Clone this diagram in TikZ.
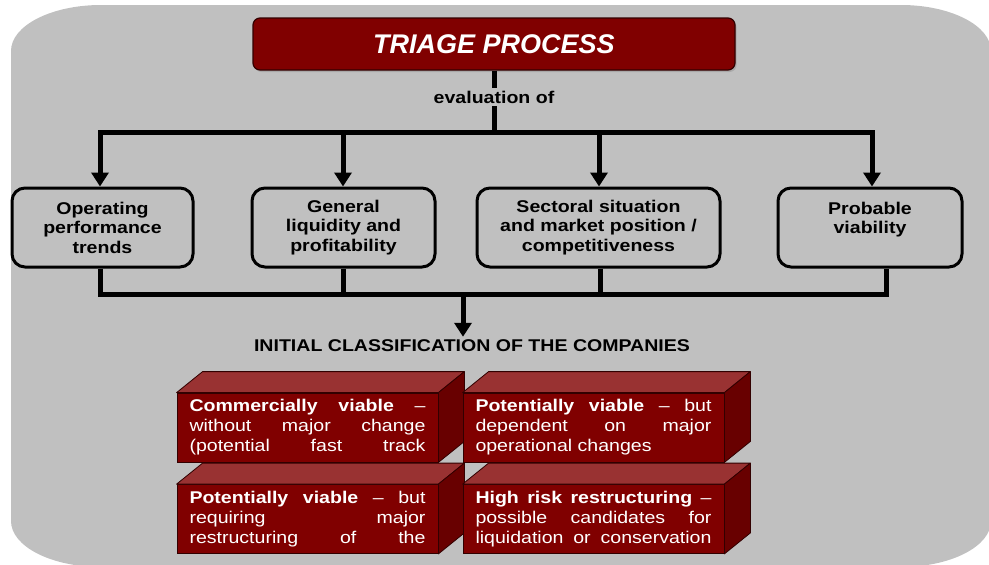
\documentclass[tikz,border=0pt]{standalone}
\usepackage{fontspec}
\setmainfont{Liberation Sans}[FakeStretch=1.15]
\newfontfamily\titlefont{Liberation Sans}
\usetikzlibrary{arrows.meta,shadows,calc}

\definecolor{bggray}{RGB}{192,192,192}
\definecolor{maroon}{RGB}{128,0,0}
\definecolor{maroontop}{RGB}{153,50,50}
\definecolor{maroonside}{RGB}{104,0,0}
\definecolor{maroonedge}{RGB}{50,0,0}

% one justified line of a classification slab
\newcommand\jl[1]{\hbox to 236pt{#1}}
% top and right faces of a slab whose front face is node #1
\newcommand\slabfaces[1]{%
  \filldraw[slabtop] (#1.north west) -- ++(26,-21) -- ($(#1.north east)+(26,-21)$) -- (#1.north east) -- cycle;
  \filldraw[slabside] (#1.north east) -- ++(26,-21) -- ($(#1.south east)+(26,-21)$) -- (#1.south east) -- cycle;}

\begin{document}
\begin{tikzpicture}[x=1pt,y=-1pt,
  conn/.style={line width=5pt},
  hconn/.style={line width=5pt,line cap=rect},
  arrowconn/.style={line width=5pt,-{Triangle[width=17pt,length=14pt]}},
  titlebox/.style={fill=maroon,draw=maroonedge,line width=1.2pt,rounded corners=7pt,
    minimum width=482pt,minimum height=52pt,text=white,
    drop shadow={opacity=0.35,shadow xshift=1.5pt,shadow yshift=-2pt},
    font=\titlefont\bfseries\itshape\fontsize{27}{30}\selectfont},
  topbox/.style={draw=black,line width=3pt,fill=bggray,rounded corners=13pt,
    minimum height=79pt,align=center,inner sep=0pt,
    font=\bfseries\fontsize{17}{19.5}\selectfont},
  label/.style={font=\bfseries\fontsize{17}{20}\selectfont,inner sep=3pt},
  front/.style={fill=maroon,draw=maroonedge,line width=0.8pt,minimum width=261pt,
    minimum height=69pt,inner sep=0pt,text=white,font=\fontsize{17}{20}\selectfont},
  slabtop/.style={fill=maroontop,draw=maroonedge,line width=0.8pt,line join=round},
  slabside/.style={fill=maroonside,draw=maroonedge,line width=0.8pt,line join=round}
]
\useasboundingbox (0,0) rectangle (989,565);

% grey backdrop with elliptic corners
\fill[bggray] (11,51) .. controls (11,25.6) and (51.3,5) .. (101,5) -- (901,5)
  .. controls (950.7,5) and (991,25.6) .. (991,51) -- (991,521)
  .. controls (991,546.4) and (950.7,567) .. (901,567) -- (101,567)
  .. controls (51.3,567) and (11,546.4) .. (11,521) -- cycle;

% heading
\node[titlebox] (title) at (494,44) {TRIAGE PROCESS};
\node[label] (eval) at (494,97) {evaluation of};
\coordinate (j) at (494,132);
\draw[conn] (title.south) -- (eval.north);
\draw[conn] (eval.south) -- (j);

% criteria boxes
\node[topbox,minimum width=181pt] (b1) at (102.5,227.5) {Operating\\performance\\trends};
\node[topbox,minimum width=183pt] (b2) at (343.5,227.5) {General\\liquidity and\\profitability};
\node[topbox,minimum width=243pt] (b3) at (598.5,227.5) {Sectoral situation\\and market position /\\competitiveness};
\node[topbox,minimum width=184pt] (b4) at (870,227.5) {Probable\\viability\\\mbox{}};

% distribution to the criteria
\coordinate (h1) at (100,132);
\coordinate (h2) at (343,132);
\coordinate (h3) at (599,132);
\coordinate (h4) at (872,132);
\draw[hconn] (h1) -- (h4);
\draw[arrowconn] (h1) -- (h1 |- b1.north);
\draw[arrowconn] (h2) -- (h2 |- b2.north);
\draw[arrowconn] (h3) -- (h3 |- b3.north);
\draw[arrowconn] (h4) -- (h4 |- b4.north);

% collection from the criteria
\coordinate (l1) at (100,294);
\coordinate (l2) at (343,294);
\coordinate (l3) at (600,294);
\coordinate (l4) at (886,294);
\coordinate (m) at (463,294);
\draw[conn] (l1 |- b1.south) -- (l1);
\draw[conn] (l2 |- b2.south) -- (l2);
\draw[conn] (l3 |- b3.south) -- (l3);
\draw[conn] (l4 |- b4.south) -- (l4);
\draw[hconn] (l1) -- (l4);

\node[label] (cls) at (472,346) {INITIAL CLASSIFICATION OF THE COMPANIES};
\draw[arrowconn] (m) -- (m |- cls.north);

% classification slabs
\node[front] (ca) at (307.5,427.5) {\vbox{%
  \jl{\textbf{Commercially}\hfill\textbf{viable}\hfill–}
  \jl{without\hfill major\hfill change}
  \jl{(potential\hfill fast\hfill track}}};
\slabfaces{ca}
\node[front] (cb) at (593.5,427.5) {\vbox{%
  \jl{\textbf{Potentially}\hfill\textbf{viable}\hfill–\hfill but}
  \jl{dependent\hfill on\hfill major}
  \jl{operational changes\hfill}}};
\slabfaces{cb}
\node[front] (cc) at (307.5,519) {\vbox{%
  \jl{\textbf{Potentially}\hfill\textbf{viable}\hfill–\hfill but}
  \jl{requiring\hfill major}
  \jl{restructuring\hfill of\hfill the}}};
\slabfaces{cc}
\node[front] (cd) at (593.5,519) {\vbox{%
  \jl{\textbf{High}\hfill\textbf{risk}\hfill\textbf{restructuring}\hfill–}
  \jl{possible\hfill candidates\hfill for}
  \jl{liquidation\hfill or\hfill conservation}}};
\slabfaces{cd}
\end{tikzpicture}
\end{document}
